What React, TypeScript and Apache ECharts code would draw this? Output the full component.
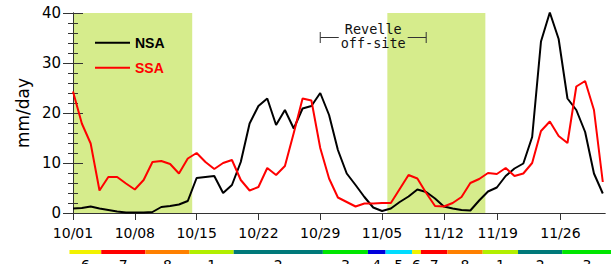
import React, { useEffect, useRef } from "react";
import * as echarts from "echarts";

// x positions are days after 10/01
const tickDays = [0, 7, 14, 21, 28, 35, 42, 48.1, 55.2];
const tickLabels = ["10/01", "10/08", "10/15", "10/22", "10/29", "11/05", "11/12", "11/19", "11/26"];

const nsa = [
  0.9, 1.0, 1.3, 0.9, 0.6, 0.3, 0.1, 0.1, 0.1, 0.2,
  1.2, 1.4, 1.7, 2.4, 7.0, 7.2, 7.4, 4.0, 5.6, 10.2,
  17.9, 21.4, 22.9, 17.6, 20.6, 16.9, 20.9, 21.4, 24.0, 19.6,
  12.6, 7.9, 5.6, 3.2, 1.1, 0.4, 0.9, 2.2, 3.3, 4.7,
  4.2, 2.9, 1.3, 0.9, 0.6, 0.5, 2.5, 4.3, 5.1, 7.4,
  8.9, 9.9, 15.2, 34.3, 40.1, 34.8, 22.9, 20.6, 16.2, 7.9,
  3.9,
];

const ssa = [
  24.3, 17.9, 13.9, 4.5, 7.2, 7.2, 5.9, 4.7, 6.6, 10.2,
  10.4, 9.8, 7.9, 10.9, 12.0, 10.2, 8.8, 10.0, 10.6, 6.6,
  4.5, 5.2, 9.0, 7.6, 9.4, 16.0, 22.9, 22.5, 13.0, 6.9,
  3.1, 2.2, 1.3, 1.9, 1.9, 2.0, 2.0, 4.8, 7.6, 6.9,
  4.0, 1.4, 1.3, 2.0, 3.2, 6.0, 6.8, 8.0, 7.8, 9.0,
  7.4, 7.9, 10.0, 16.4, 18.3, 15.4, 14.0, 25.3, 26.4, 20.6,
  6.2,
];

const greenPeriods = [
  [0, 13.5],
  [35.6, 46.7],
];

// [start day, end day, level mm/day]
const offsite = [[28, 40, 35.1]];
const offsiteText = "Revelle\noff-site";

const phaseBounds = [-0.4, 3.2, 8.2, 13.2, 18.2, 28.3, 33.4, 35.4, 38.4, 39.4, 42.4, 46.4, 50.4, 55.4, 61];
const phases = [6, 7, 8, 1, 2, 3, 4, 5, 6, 7, 8, 1, 2, 3];
const phaseColors: Record<number, string> = {
  1: "#b2ef00",
  2: "#00797a",
  3: "#00e600",
  4: "#0000dc",
  5: "#00dcff",
  6: "#f2f200",
  7: "#ff0000",
  8: "#ff8000",
};

const AXIS_COLOR = "#333";
const FONT = "DejaVu Sans";

export default function App() {
  const ref = useRef<HTMLDivElement>(null);

  useEffect(() => {
    if (!ref.current) return;
    const chart = echarts.init(ref.current, null, { renderer: "svg" });

    const xCommon = {
      type: "value",
      min: 0,
      max: 60.25,
      splitLine: { show: false },
      axisLine: { show: true, lineStyle: { color: AXIS_COLOR, width: 1 } },
    };

    chart.setOption({
      animation: false,
      backgroundColor: "#fff",
      grid: { left: 73, right: 6, top: 13, bottom: 51, containLabel: false },
      legend: {
        orient: "vertical",
        left: 90,
        top: 30.7,
        itemWidth: 35,
        itemHeight: 2,
        itemGap: 11,
        icon: "rect",
        data: [
          { name: "NSA", textStyle: { color: "#000" } },
          { name: "SSA", textStyle: { color: "#ff0000" } },
        ],
        textStyle: { fontFamily: "Liberation Sans", fontWeight: "bold", fontSize: 14, lineHeight: 14 },
      },
      xAxis: [
        {
          ...xCommon,
          position: "bottom",
          axisTick: { show: true, inside: false, length: 7, customValues: tickDays, lineStyle: { color: AXIS_COLOR } },
          axisLabel: {
            show: true,
            customValues: tickDays,
            margin: 13,
            fontFamily: FONT,
            fontSize: 14,
            lineHeight: 14,
            color: "#000",
            formatter: (v: number) => {
              const i = tickDays.findIndex((d) => Math.abs(d - v) < 1e-6);
              return i >= 0 ? tickLabels[i] : "";
            },
          },
        },
        {
          ...xCommon,
          position: "top",
          axisTick: { show: true, inside: true, length: 7, customValues: tickDays, lineStyle: { color: AXIS_COLOR } },
          axisLabel: { show: false },
        },
      ],
      yAxis: [
        {
          type: "value",
          min: 0,
          max: 40,
          interval: 10,
          position: "left",
          name: "mm/day",
          nameLocation: "middle",
          nameRotate: 90,
          nameGap: 42,
          nameTextStyle: { fontFamily: FONT, fontSize: 17, color: "#000" },
          splitLine: { show: false },
          axisLine: { show: true, lineStyle: { color: AXIS_COLOR, width: 1 } },
          axisTick: { show: true, inside: true, length: 10, lineStyle: { color: AXIS_COLOR } },
          minorTick: { show: true, splitNumber: 5, length: 5, lineStyle: { color: AXIS_COLOR } },
          axisLabel: { fontFamily: FONT, fontSize: 15, color: "#000", margin: 12 },
        },
        {
          type: "value",
          min: 0,
          max: 40,
          interval: 10,
          position: "right",
          splitLine: { show: false },
          axisLine: { show: true, lineStyle: { color: AXIS_COLOR, width: 1 } },
          axisTick: { show: true, inside: true, length: 10, lineStyle: { color: AXIS_COLOR } },
          minorTick: { show: true, splitNumber: 5, length: 5, lineStyle: { color: AXIS_COLOR } },
          axisLabel: { show: false },
        },
      ],
      series: [
        {
          name: "periods",
          type: "custom",
          z: -1,
          silent: true,
          encode: { x: [0, 1] },
          data: greenPeriods,
          renderItem: (params: any, api: any) => {
            const a = api.coord([api.value(0), 40]);
            const b = api.coord([api.value(1), 0]);
            return {
              type: "rect",
              shape: { x: a[0], y: a[1], width: b[0] - a[0], height: b[1] - a[1] },
              style: { fill: "#d6ec8c" },
            };
          },
        },
        {
          name: "NSA",
          type: "line",
          data: nsa.map((v, i) => [i, v]),
          showSymbol: false,
          symbol: "none",
          z: 3,
          itemStyle: { color: "#000" },
          lineStyle: { color: "#000", width: 2 },
        },
        {
          name: "SSA",
          type: "line",
          data: ssa.map((v, i) => [i, v]),
          showSymbol: false,
          symbol: "none",
          z: 3,
          itemStyle: { color: "#ff0000" },
          lineStyle: { color: "#ff0000", width: 2 },
        },
        {
          name: "offsite",
          type: "custom",
          silent: true,
          z: 4,
          encode: { x: [0, 1], y: 2 },
          data: offsite,
          renderItem: (params: any, api: any) => {
            const L = api.coord([api.value(0), api.value(2)]);
            const R = api.coord([api.value(1), api.value(2)]);
            const ls = { stroke: AXIS_COLOR, lineWidth: 1 };
            return {
              type: "group",
              children: [
                { type: "line", shape: { x1: L[0], y1: L[1] - 5.5, x2: L[0], y2: L[1] + 5.5 }, style: ls },
                { type: "line", shape: { x1: L[0], y1: L[1], x2: L[0] + 18.5, y2: L[1] }, style: ls },
                { type: "line", shape: { x1: R[0] - 18.5, y1: R[1], x2: R[0], y2: R[1] }, style: ls },
                { type: "line", shape: { x1: R[0], y1: R[1] - 5.5, x2: R[0], y2: R[1] + 5.5 }, style: ls },
                {
                  type: "text",
                  style: {
                    text: offsiteText,
                    x: (L[0] + R[0]) / 2,
                    y: L[1] - 1.7,
                    align: "center",
                    verticalAlign: "middle",
                    fontFamily: "DejaVu Sans Mono",
                    fontSize: 13.5,
                    lineHeight: 14,
                    fill: "#111",
                  },
                },
              ],
            };
          },
        },
        {
          name: "phases",
          type: "custom",
          silent: true,
          clip: false,
          encode: { x: [0, 1] },
          data: phases.map((p, i) => [phaseBounds[i], phaseBounds[i + 1], p]),
          renderItem: (params: any, api: any) => {
            const s = api.coord([api.value(0), 0]);
            const e = api.coord([api.value(1), 0]);
            const ph = api.value(2);
            return {
              type: "group",
              children: [
                {
                  type: "rect",
                  shape: { x: s[0], y: s[1] + 37, width: e[0] - s[0], height: 4 },
                  style: { fill: phaseColors[ph] },
                },
                {
                  type: "text",
                  style: {
                    text: String(ph),
                    x: (s[0] + e[0]) / 2,
                    y: s[1] + 51.7,
                    align: "center",
                    verticalAlign: "middle",
                    fontFamily: FONT,
                    fontSize: 14,
                    fill: "#000",
                  },
                },
              ],
            };
          },
        },
      ],
    });

    return () => chart.dispose();
  }, []);

  return (
    <div
      ref={ref}
      style={{ position: "fixed", left: 0, top: 0, width: 611, height: 264, background: "#fff" }}
    />
  );
}
